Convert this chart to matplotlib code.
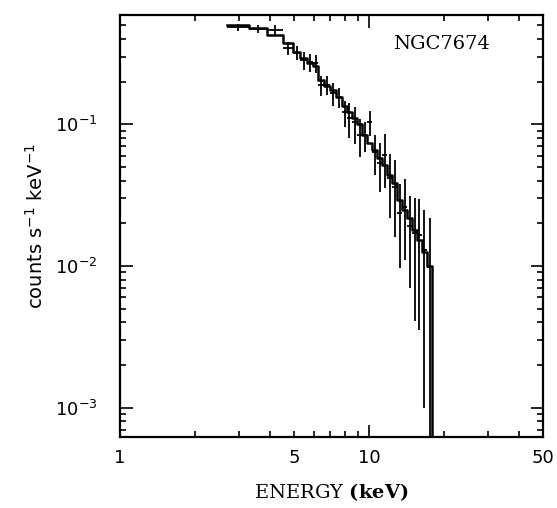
import numpy as np
import matplotlib
matplotlib.use("Agg")
import matplotlib.pyplot as plt
from matplotlib.ticker import FixedLocator, FuncFormatter, LogLocator, NullFormatter

plt.rcParams['mathtext.fontset'] = 'custom'
plt.rcParams['mathtext.rm'] = 'DejaVu Sans'
plt.rcParams['mathtext.it'] = 'DejaVu Sans:italic'
plt.rcParams['mathtext.bf'] = 'DejaVu Serif:bold'

# energy bin edges (keV)
edges = [2.7, 3.3, 3.9, 4.5, 4.95, 5.3, 5.65, 5.95, 6.25, 6.6, 7.0, 7.4, 7.8,
         8.15, 8.55, 8.95, 9.4, 9.8, 10.3, 10.8, 11.3, 11.8, 12.4, 13.0, 13.6,
         14.2, 14.9, 15.6, 16.3, 17.1, 17.9]

# folded model (step histogram)
model = [0.498, 0.474, 0.423, 0.372, 0.321, 0.292, 0.269, 0.256, 0.204, 0.185,
         0.174, 0.155, 0.134, 0.121, 0.110, 0.100, 0.0837, 0.0735, 0.0656,
         0.0576, 0.0514, 0.0437, 0.0384, 0.0292, 0.0248, 0.0218, 0.0179,
         0.0152, 0.0125, 0.0100]

# observed counts and 1-sigma errors
counts = [0.482, 0.47, 0.459, 0.343, 0.32, 0.282, 0.273, 0.27, 0.188, 0.19,
          0.165, 0.155, 0.121, 0.110, 0.103, 0.084, 0.084, 0.103, 0.0635,
          0.0531, 0.0605, 0.0417, 0.036, 0.0236, 0.026, 0.019, 0.0171,
          0.0165, 0.013, 0.0098]
errors = [0.03, 0.03, 0.04, 0.035, 0.035, 0.04, 0.04, 0.04, 0.03, 0.03,
          0.03, 0.025, 0.025, 0.03, 0.03, 0.025, 0.02, 0.02, 0.02, 0.02,
          0.025, 0.02, 0.02, 0.014, 0.015, 0.012, 0.013, 0.013, 0.012, 0.012]

xlim = (1, 50)
ylim = (6.2e-4, 0.59)

edges = np.array(edges)
model = np.array(model)
counts = np.array(counts)
errors = np.array(errors)
centers = np.sqrt(edges[:-1] * edges[1:])
lo = np.clip(counts - errors, 1e-6, None)
hi = counts + errors

fig = plt.figure(figsize=(5.57, 5.08), dpi=100)
ax = fig.add_axes([0.2154, 0.1398, 0.7596, 0.8307])

# model histogram, dropping off at the last edge
xs = np.r_[edges, edges[-1]]
ys = np.r_[model, model[-1], 1e-6]
ax.step(xs, ys, where='post', color='black', lw=1.8)

# data crosses
ax.errorbar(centers, counts,
            xerr=[centers - edges[:-1], edges[1:] - centers],
            yerr=[counts - lo, hi - counts],
            fmt='none', ecolor='black', elinewidth=1.3, capsize=0)

ax.set_xscale('log')
ax.set_yscale('log')
ax.set_xlim(*xlim)
ax.set_ylim(*ylim)

ax.xaxis.set_major_locator(FixedLocator([1, 10]))
ax.xaxis.set_minor_locator(FixedLocator([2, 3, 4, 5, 6, 7, 8, 9, 20, 30, 40, 50]))
ax.xaxis.set_major_formatter(FuncFormatter(lambda v, p: '%g' % v))
ax.xaxis.set_minor_formatter(FuncFormatter(lambda v, p: '%g' % v if v in (5, 50) else ''))
ax.yaxis.set_major_locator(LogLocator(base=10))
ax.yaxis.set_minor_locator(LogLocator(base=10, subs=np.arange(2, 10)))
ax.yaxis.set_minor_formatter(NullFormatter())

ax.tick_params(which='both', direction='in', top=True, right=True,
               labelsize=13, width=1.2)
ax.tick_params(axis='x', which='both', pad=9)
ax.tick_params(axis='y', which='both', pad=16)
ax.tick_params(which='major', length=9)
ax.tick_params(which='minor', length=4)
for s in ax.spines.values():
    s.set_linewidth(1.6)

ax.set_xlabel('ENERGY $\\mathbf{(keV)}$', family='DejaVu Serif', fontsize=14,
              labelpad=10)
ax.set_ylabel('counts s$^{-1}$ keV$^{-1}$', fontsize=14, labelpad=6)
ax.text(0.761, 0.931, 'NGC7674', transform=ax.transAxes, ha='center',
        va='center', fontsize=14, family='DejaVu Serif')

fig.savefig('out.png', dpi=100, facecolor='white')
